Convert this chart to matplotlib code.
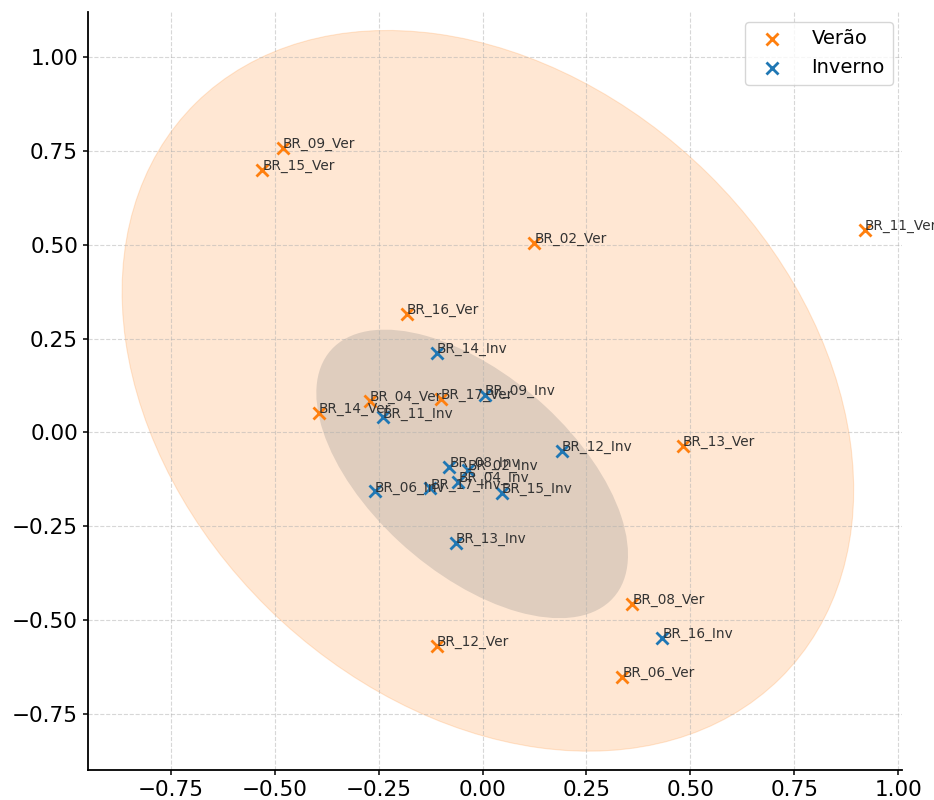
import numpy as np
import matplotlib
matplotlib.use("Agg")
import matplotlib.pyplot as plt
from matplotlib.patches import Ellipse
import matplotlib.transforms as transforms

ver_names = ["BR_09_Ver", "BR_15_Ver", "BR_11_Ver", "BR_02_Ver", "BR_16_Ver", "BR_04_Ver",
             "BR_17_Ver", "BR_14_Ver", "BR_13_Ver", "BR_08_Ver", "BR_12_Ver", "BR_06_Ver"]
ver_x = [-0.48, -0.53, 0.92, 0.125, -0.183, -0.272, -0.10, -0.394, 0.482, 0.36, -0.11, 0.336]
ver_y = [0.757, 0.70, 0.54, 0.504, 0.315, 0.083, 0.09, 0.053, -0.035, -0.456, -0.568, -0.651]

inv_names = ["BR_14_Inv", "BR_09_Inv", "BR_11_Inv", "BR_12_Inv", "BR_08_Inv", "BR_02_Inv",
             "BR_04_Inv", "BR_17_Inv", "BR_06_Inv", "BR_15_Inv", "BR_13_Inv", "BR_16_Inv"]
inv_x = [-0.11, 0.005, -0.24, 0.19, -0.08, -0.036, -0.058, -0.126, -0.26, 0.047, -0.065, 0.433]
inv_y = [0.213, 0.099, 0.040, -0.048, -0.091, -0.099, -0.131, -0.149, -0.157, -0.160, -0.293, -0.547]


def confidence_ellipse(x, y, ax, n_std=2.0, **kwargs):
    x = np.asarray(x)
    y = np.asarray(y)
    cov = np.cov(x, y)
    pearson = cov[0, 1] / np.sqrt(cov[0, 0] * cov[1, 1])
    rx = np.sqrt(1 + pearson)
    ry = np.sqrt(1 - pearson)
    ell = Ellipse((0, 0), width=rx * 2, height=ry * 2, **kwargs)
    sx = np.sqrt(cov[0, 0]) * n_std
    sy = np.sqrt(cov[1, 1]) * n_std
    tr = (transforms.Affine2D().rotate_deg(45).scale(sx, sy)
          .translate(np.mean(x), np.mean(y)))
    ell.set_transform(tr + ax.transData)
    return ax.add_patch(ell)


fig, ax = plt.subplots(figsize=(9.34, 8), dpi=100)

confidence_ellipse(ver_x, ver_y, ax, n_std=2.0, facecolor="tab:orange", alpha=0.18,
                   edgecolor="tab:orange", linewidth=0.8)
confidence_ellipse(inv_x, inv_y, ax, n_std=2.0, facecolor="gray", alpha=0.25, edgecolor="none")

ax.scatter(ver_x, ver_y, marker="x", color="tab:orange", s=75, linewidths=2, label="Verão", zorder=3)
ax.scatter(inv_x, inv_y, marker="x", color="tab:blue", s=75, linewidths=2, label="Inverno", zorder=3)

for n, x, y in zip(ver_names, ver_x, ver_y):
    ax.text(x, y, n, fontsize=9.8, color="#333333", zorder=4)
for n, x, y in zip(inv_names, inv_x, inv_y):
    ax.text(x, y, n, fontsize=9.8, color="#333333", zorder=4)

ax.set_xlim(-0.95, 1.01)
ax.set_ylim(-0.90, 1.12)
ax.set_xticks([-0.75, -0.5, -0.25, 0, 0.25, 0.5, 0.75, 1.0])
ax.set_yticks([-0.75, -0.5, -0.25, 0, 0.25, 0.5, 0.75, 1.0])
ax.tick_params(labelsize=15.5, width=1.1)
ax.grid(True, linestyle="--", linewidth=0.8, alpha=0.5)
ax.spines["top"].set_visible(False)
ax.spines["right"].set_visible(False)
ax.spines["left"].set_linewidth(1.3)
ax.spines["bottom"].set_linewidth(1.3)
ax.legend(loc="upper right", fontsize=14, handletextpad=1.0)

plt.subplots_adjust(left=0.094, right=0.966, top=0.985, bottom=0.037)
plt.savefig("out.png")
